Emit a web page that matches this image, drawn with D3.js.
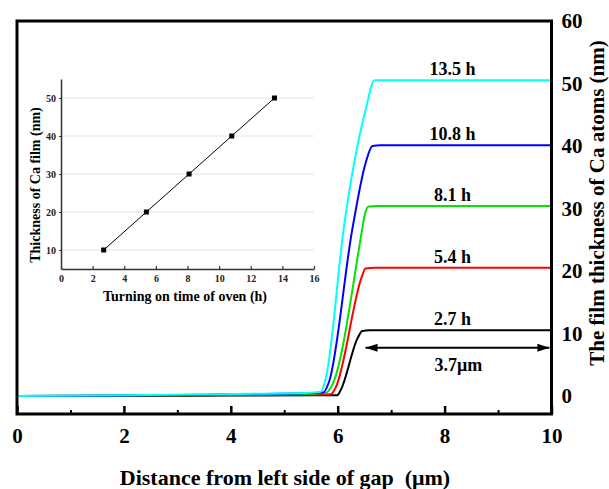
<!DOCTYPE html>
<html>
<head>
<meta charset="utf-8">
<script src="https://cdn.jsdelivr.net/npm/d3@7"></script>
<style>
  body { margin: 0; background: #fff; }
  svg text { font-family: "Liberation Serif", "Times New Roman", serif; font-weight: bold; }
</style>
</head>
<body>
<div id="chart"></div>
<script>
// Main chart: film thickness profile across the gap, one curve per oven time
var hours = [2.7, 5.4, 8.1, 10.8, 13.5];
var colors = ["#000000", "#ff0000", "#00e600", "#0000ff", "#00ffff"];

var dist27 = [0, 2, 4, 5.5, 5.99, 6.06, 6.37, 6.46, 6.6, 10];
var film27 = [0, 0, 0.05, 0.1, 0.1, 1.0, 9.2, 10.4, 10.5, 10.5];
var dist54 = [0, 2, 4, 5.5, 5.87, 5.96, 6.46, 6.52, 6.7, 10];
var film54 = [0, 0.05, 0.15, 0.2, 0.25, 1.3, 19.3, 20.4, 20.5, 20.5];
var dist81 = [0, 2, 4, 5.5, 5.78, 5.9, 6.47, 6.5, 6.58, 6.75, 10];
var film81 = [0, 0.05, 0.2, 0.35, 0.5, 1.8, 27.3, 28.8, 30.3, 30.4, 30.4];
var dist108 = [0, 2, 4, 5.5, 5.73, 5.84, 6.27, 6.52, 6.65, 6.8, 10];
var film108 = [0, 0.05, 0.25, 0.45, 0.55, 2.3, 26.5, 37.2, 40.0, 40.1, 40.1];
var dist135 = [0, 2, 4, 5.5, 5.68, 5.78, 6.12, 6.52, 6.69, 6.85, 10];
var film135 = [0, 0.1, 0.3, 0.5, 0.64, 2.9, 27.3, 45.7, 50.5, 50.5, 50.5];

var xTicks = [0, 2, 4, 6, 8, 10];
var xMinorTicks = [1, 3, 5, 7, 9];
var yTicks = [0, 10, 20, 30, 40, 50, 60];

// Annotation: width of the flat region
var spanFrom = 6.52, spanTo = 9.96, spanLevel = 7.7, spanLabel = "3.7\u03bcm";

// Inset: thickness vs oven time
var insetTime = [2.7, 5.4, 8.1, 10.8, 13.5];
var insetThickness = [10, 20, 30, 40, 50];
var insetXTicks = [0, 2, 4, 6, 8, 10, 12, 14, 16];
var insetYTicks = [10, 20, 30, 40, 50];

var series = [
  { x: dist27, y: film27 },
  { x: dist54, y: film54 },
  { x: dist81, y: film81 },
  { x: dist108, y: film108 },
  { x: dist135, y: film135 }
].map(function (s, i) {
  return {
    label: hours[i] + " h",
    color: colors[i],
    points: s.x.map(function (d, j) { return { x: d, y: s.y[j] }; })
  };
});

var width = 609, height = 489;
var svg = d3.select("#chart").append("svg")
  .attr("width", width)
  .attr("height", height);

var x = d3.scaleLinear().domain([0, 10]).range([17, 551.5]);
var y = d3.scaleLinear().domain([-2.9, 60]).range([414, 21]);

// Curves
var line = d3.line()
  .x(function (d) { return x(d.x); })
  .y(function (d) { return y(d.y); })
  .curve(d3.curveMonotoneX);

svg.append("g").selectAll("path")
  .data(series)
  .enter().append("path")
  .attr("d", function (d) { return line(d.points); })
  .attr("fill", "none")
  .attr("stroke", function (d) { return d.color; })
  .attr("stroke-width", 2);

// Curve labels
svg.append("g").selectAll("text")
  .data(series)
  .enter().append("text")
  .attr("x", x(8.15))
  .attr("y", function (d) { return y(d.points[d.points.length - 1].y) - 5; })
  .attr("text-anchor", "middle")
  .style("font-size", "18px")
  .text(function (d) { return d.label; });

// Frame
svg.append("rect")
  .attr("x", x(0)).attr("y", y(60))
  .attr("width", x(10) - x(0)).attr("height", y(-2.9) - y(60))
  .attr("fill", "none")
  .attr("stroke", "#000")
  .attr("stroke-width", 3);

// Bottom axis (ticks point inward)
var xAxis = svg.append("g")
  .attr("transform", "translate(0," + y(-2.9) + ")")
  .call(d3.axisBottom(x).tickValues(xTicks).tickSizeInner(-8).tickSizeOuter(0).tickPadding(14));
xAxis.select(".domain").remove();
xAxis.selectAll(".tick line").attr("stroke-width", 2.5);
xAxis.selectAll(".tick text").style("font-size", "21px").attr("fill", "#000");

var xMinor = svg.append("g")
  .attr("transform", "translate(0," + y(-2.9) + ")")
  .call(d3.axisBottom(x).tickValues(xMinorTicks).tickSizeInner(-4).tickSizeOuter(0).tickFormat(""));
xMinor.select(".domain").remove();
xMinor.selectAll(".tick line").attr("stroke-width", 2);

// Right axis
var yAxis = svg.append("g")
  .attr("transform", "translate(" + x(10) + ",0)")
  .call(d3.axisRight(y).tickValues(yTicks).tickSize(0).tickPadding(10));
yAxis.select(".domain").remove();
yAxis.selectAll(".tick text").style("font-size", "21px").attr("fill", "#000");

// Axis titles
svg.append("text")
  .attr("x", 285).attr("y", 485)
  .attr("text-anchor", "middle")
  .style("font-size", "22px")
  .style("white-space", "pre")
  .text("Distance from left side of gap  (\u03bcm)");

svg.append("text")
  .attr("transform", "translate(604,203) rotate(-90)")
  .attr("text-anchor", "middle")
  .style("font-size", "21px")
  .text("The film thickness of Ca atoms (nm)");

// Span arrow
var defs = svg.append("defs");
defs.append("marker")
  .attr("id", "head")
  .attr("viewBox", "0 0 12 8")
  .attr("refX", 12).attr("refY", 4)
  .attr("markerUnits", "userSpaceOnUse")
  .attr("markerWidth", 13).attr("markerHeight", 8)
  .attr("orient", "auto-start-reverse")
  .append("path")
  .attr("d", "M0,0L12,4L0,8Z")
  .attr("fill", "#000");

svg.append("line")
  .attr("x1", x(spanFrom)).attr("x2", x(spanTo))
  .attr("y1", y(spanLevel)).attr("y2", y(spanLevel))
  .attr("stroke", "#000")
  .attr("stroke-width", 2)
  .attr("marker-start", "url(#head)")
  .attr("marker-end", "url(#head)");

svg.append("text")
  .attr("x", x((spanFrom + spanTo) / 2) + 1)
  .attr("y", y(spanLevel) + 23)
  .attr("text-anchor", "middle")
  .style("font-size", "18px")
  .text(spanLabel);

//=====================================================================//
// Inset chart

var ix = d3.scaleLinear().domain([0, 16]).range([61, 314]);
var iy = d3.scaleLinear().domain([5, 55]).range([269, 79]);
var inset = svg.append("g");

// Gridlines
inset.append("g").selectAll("line")
  .data(insetYTicks)
  .enter().append("line")
  .attr("x1", ix(0)).attr("x2", ix(16))
  .attr("y1", function (d) { return iy(d); })
  .attr("y2", function (d) { return iy(d); })
  .attr("stroke", "#e3e3e3")
  .attr("stroke-width", 1.2);

var ixAxis = inset.append("g")
  .attr("transform", "translate(0," + iy(5) + ")")
  .call(d3.axisBottom(ix).tickValues(insetXTicks).tickSizeInner(-3).tickSizeOuter(0).tickPadding(6));
ixAxis.select(".domain").attr("stroke", "#333").attr("stroke-width", 1.5);
ixAxis.selectAll(".tick line").attr("stroke", "#333").attr("stroke-width", 1.2);
ixAxis.selectAll(".tick text").style("font-size", "10px").attr("fill", "#222");

var iyAxis = inset.append("g")
  .attr("transform", "translate(" + ix(0) + ",0)")
  .call(d3.axisLeft(iy).tickValues(insetYTicks).tickSizeInner(2).tickSizeOuter(0).tickPadding(3));
iyAxis.select(".domain").attr("stroke", "#333").attr("stroke-width", 1.5);
iyAxis.selectAll(".tick line").attr("stroke", "#333").attr("stroke-width", 1.2);
iyAxis.selectAll(".tick text").style("font-size", "10px").attr("fill", "#222");

var insetPoints = insetTime.map(function (t, i) { return { x: t, y: insetThickness[i] }; });

inset.append("path")
  .datum(insetPoints)
  .attr("d", d3.line()
    .x(function (d) { return ix(d.x); })
    .y(function (d) { return iy(d.y); }))
  .attr("fill", "none")
  .attr("stroke", "#000")
  .attr("stroke-width", 1);

inset.selectAll(".dot")
  .data(insetPoints)
  .enter().append("rect")
  .attr("class", "dot")
  .attr("x", function (d) { return ix(d.x) - 2.5; })
  .attr("y", function (d) { return iy(d.y) - 2.5; })
  .attr("width", 5).attr("height", 5)
  .attr("fill", "#000");

inset.append("text")
  .attr("x", 185).attr("y", 301)
  .attr("text-anchor", "middle")
  .style("font-size", "14px")
  .text("Turning on time of oven (h)");

inset.append("text")
  .attr("transform", "translate(40,185) rotate(-90)")
  .attr("text-anchor", "middle")
  .style("font-size", "14px")
  .text("Thickness of Ca film (nm)");
</script>
</body>
</html>
